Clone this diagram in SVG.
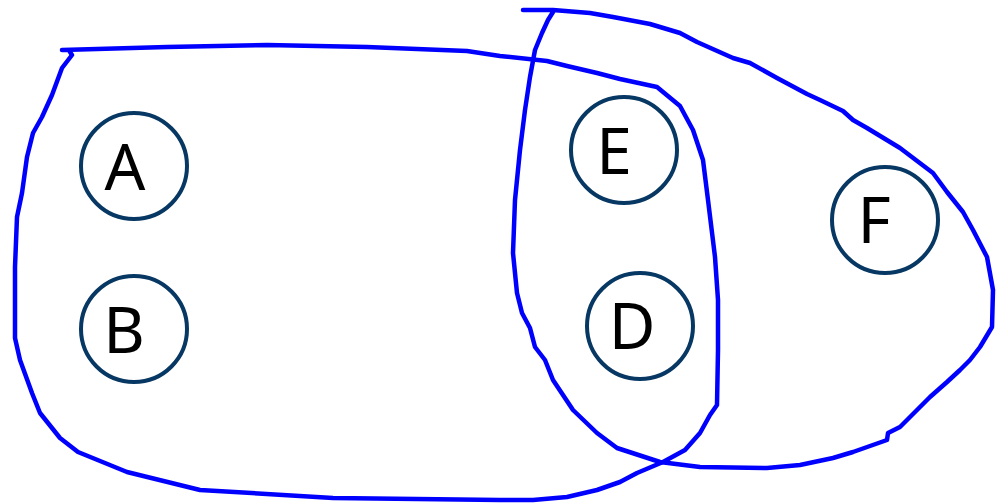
<svg xmlns="http://www.w3.org/2000/svg" width="1003" height="504" viewBox="0 0 1003 504">
<style>
.hull{fill:none;stroke:#0000ff;stroke-width:4.5;stroke-linejoin:round;stroke-linecap:round}
.node circle{fill:#ffffff;stroke:#073763;stroke-width:4}
.node text{font-family:"Noto Sans","Open Sans",sans-serif;font-size:64px;fill:#000000;text-anchor:middle}
</style>
<rect width="1003" height="504" fill="#ffffff"/>
<g id="connectors">
<polyline class="hull" points="62,50 167,47 267,45 367,47 467,51 500,56 547,61 567,66 597,73 620,79 657,87 680,106 693,130 703,160 708,200 715,257 718,300 718,350 717,405 710,415 700,433 685,450 663,462 637,473 620,482 597,490 567,497 533,500 500,500 333,498 200,490 127,472 78,452 60,438 40,413 32,393 20,360 15,338 15,267 17,217 22,193 27,157 33,133 42,117 52,95 62,68 72,55 70,52"/>
<polyline class="hull" points="523,10 553,10 590,13 613,17 650,24 680,33 697,42 733,58 750,63 777,78 807,94 820,100 843,111 853,120 867,128 900,148 933,173 947,192 963,212 973,230 987,257 993,290 992,327 980,347 970,360 960,370 947,382 930,397 917,410 900,427 888,433 887,440 853,452 833,458 800,465 767,468 700,467 660,462 617,448 597,433 573,410 553,380 545,360 535,347 530,328 522,313 517,293 513,253 515,200 520,150 525,110 530,77 535,50 542,33 548,20 553,12"/>
</g>
<g id="node-A" class="node"><circle cx="134" cy="166" r="53"/><text x="125" y="190">A</text></g>
<g id="node-B" class="node"><circle cx="134" cy="329" r="53"/><text x="124" y="353">B</text></g>
<g id="node-E" class="node"><circle cx="624" cy="150" r="53"/><text x="614" y="174">E</text></g>
<g id="node-D" class="node"><circle cx="640" cy="326" r="53"/><text x="632" y="349">D</text></g>
<g id="node-F" class="node"><circle cx="885" cy="220" r="53"/><text x="874" y="243">F</text></g>
</svg>
